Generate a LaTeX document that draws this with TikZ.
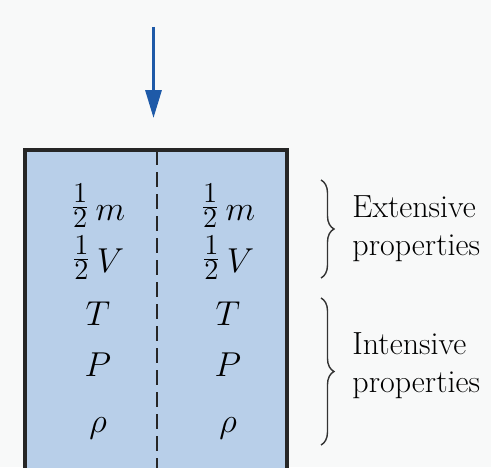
\documentclass[tikz,border=0pt]{standalone}
\usetikzlibrary{arrows.meta,decorations.pathreplacing}
\definecolor{boxblue}{RGB}{184,207,233}
\definecolor{arrowblue}{RGB}{30,90,168}
\definecolor{paper}{RGB}{248,249,249}
\newcommand{\hf}{\raisebox{2pt}{$\frac{1}{2}$}\hspace{3pt}}

\begin{document}
\begin{tikzpicture}[x=0.5pt, y=0.5pt,
  qty/.style={anchor=base, inner sep=0pt, font=\fontsize{19}{22}\selectfont},
  lbl/.style={anchor=base west, inner sep=0pt, font=\fontsize{16}{19}\selectfont},
  curly/.style={decorate, decoration={brace, amplitude=6.5pt}, line width=0.7pt, black!80}]
  \def\pw{491} \def\ph{467}
  \useasboundingbox (0,0) rectangle (\pw,\ph);
  \fill[paper] (0,0) rectangle (\pw,\ph);

  % container, cut off at the bottom
  \begin{scope}
    \clip (0,0) rectangle (\pw,\ph);
    \fill[boxblue] (25,-10) rectangle (287,317);
    \draw[black!85, line width=2pt] (25,-10) -- (25,317) -- (287,317) -- (287,-10);
    \draw[black!85, line width=1pt, dash pattern=on 7.5pt off 3.5pt] (157,317) -- (157,-10);
  \end{scope}

  % partition arrow
  \coordinate (arrtop) at (153.5,440);
  \coordinate (arrtip) at (153.5,349);
  \draw[arrowblue, line width=1.6pt, -{Triangle[length=14pt,width=8pt]}] (arrtop) -- (arrtip);

  % left half
  \node[qty] (lm)   at (98,247) {\hf$m$};
  \node[qty] (lv)   at (98,195) {\hf$V$};
  \node[qty] (lt)   at (98,142) {$T$};
  \node[qty] (lp)   at (98,91)  {$P$};
  \node[qty] (lrho) at (98,35)  {$\rho$};

  % right half
  \node[qty] (rm)   at (228,247) {\hf$m$};
  \node[qty] (rv)   at (228,195) {\hf$V$};
  \node[qty] (rt)   at (228,142) {$T$};
  \node[qty] (rp)   at (228,91)  {$P$};
  \node[qty] (rrho) at (228,35)  {$\rho$};

  % braces and labels
  \coordinate (extop) at (321,287);
  \coordinate (exbot) at (321,189);
  \coordinate (intop) at (321,169);
  \coordinate (inbot) at (321,22);
  \draw[curly] (extop) -- (exbot);
  \draw[curly] (intop) -- (inbot);
  \node[lbl] (ext1) at (352,250) {Extensive};
  \node[lbl] (ext2) at (352,212) {properties};
  \node[lbl] (int1) at (352,113) {Intensive};
  \node[lbl] (int2) at (352,75)  {properties};
\end{tikzpicture}
\end{document}
